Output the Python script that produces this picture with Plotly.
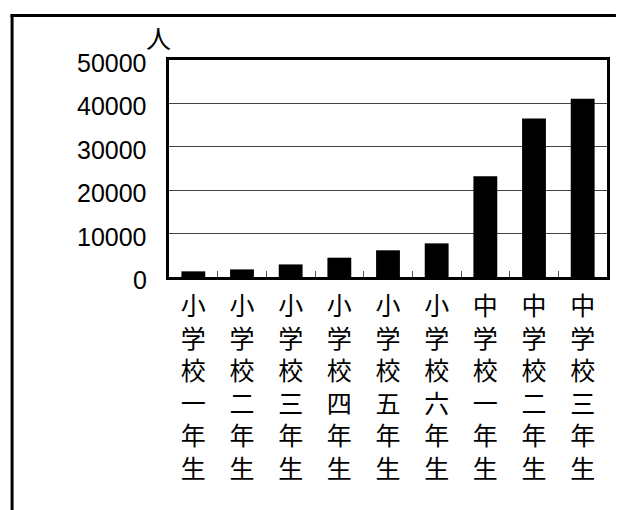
import plotly.graph_objects as go

# 学年別の人数
grades = ["小学校一年生", "小学校二年生", "小学校三年生", "小学校四年生", "小学校五年生",
          "小学校六年生", "中学校一年生", "中学校二年生", "中学校三年生"]
counts = [1300, 1750, 2900, 4450, 6150, 7750, 23200, 36500, 41100]
y_ticks = [0, 10000, 20000, 30000, 40000, 50000]

W, H = 617, 510
L, R, T, B = 169, 7, 60, 233
PW, PH = W - L - R, H - T - B


def px_x(x):
    return (x - L) / PW


def px_y(y):
    return (H - B - y) / PH


# one character per line for the category labels
vertical_labels = ["<br>".join(list(g)) for g in grades]

fig = go.Figure(go.Bar(
    x=grades, y=counts,
    marker=dict(color="black", line=dict(width=0)),
    width=0.49,
))

num_font = dict(family="Liberation Sans, Arial", size=25, color="black")

# value labels on the y axis, placed on the axis scale
y_labels = [dict(
    text=str(v), xref="paper", yref="y", x=px_x(149), y=v, yshift=-3,
    xanchor="right", yanchor="middle", showarrow=False, font=num_font,
) for v in y_ticks]

fig.update_layout(
    width=W, height=H,
    margin=dict(l=L, r=R, t=T, b=B, pad=0),
    paper_bgcolor="white", plot_bgcolor="white",
    showlegend=False,
    bargap=0.51,
    xaxis=dict(
        type="category",
        tickmode="array", tickvals=grades, ticktext=vertical_labels,
        tickangle=0,
        tickfont=dict(family="Noto Sans CJK JP", size=25, color="black"),
        ticks="inside", tickson="boundaries", ticklen=6, tickwidth=1, tickcolor="#555",
        ticklabelstandoff=5,
        showline=True, linecolor="black", linewidth=3, mirror=True,
        showgrid=False, zeroline=False,
    ),
    yaxis=dict(
        range=[0, 50000],
        tickmode="array", tickvals=y_ticks,
        showticklabels=False, ticks="",
        showline=True, linecolor="black", linewidth=3, mirror=True,
        showgrid=True, gridcolor="#444", gridwidth=1,
        zeroline=False,
    ),
    annotations=y_labels + [dict(
        text="人", xref="paper", yref="paper", x=px_x(158), y=px_y(37),
        xanchor="center", yanchor="middle", showarrow=False,
        font=dict(family="Noto Sans CJK JP", size=25, color="black"),
    )],
    shapes=[
        dict(type="line", xref="paper", yref="paper", x0=px_x(9.5), x1=px_x(W + 2),
             y0=px_y(15.5), y1=px_y(15.5), line=dict(color="black", width=3)),
        dict(type="line", xref="paper", yref="paper", x0=px_x(11), x1=px_x(11),
             y0=px_y(14), y1=px_y(H + 2), line=dict(color="black", width=3)),
    ],
)

fig.write_html("out.html")
